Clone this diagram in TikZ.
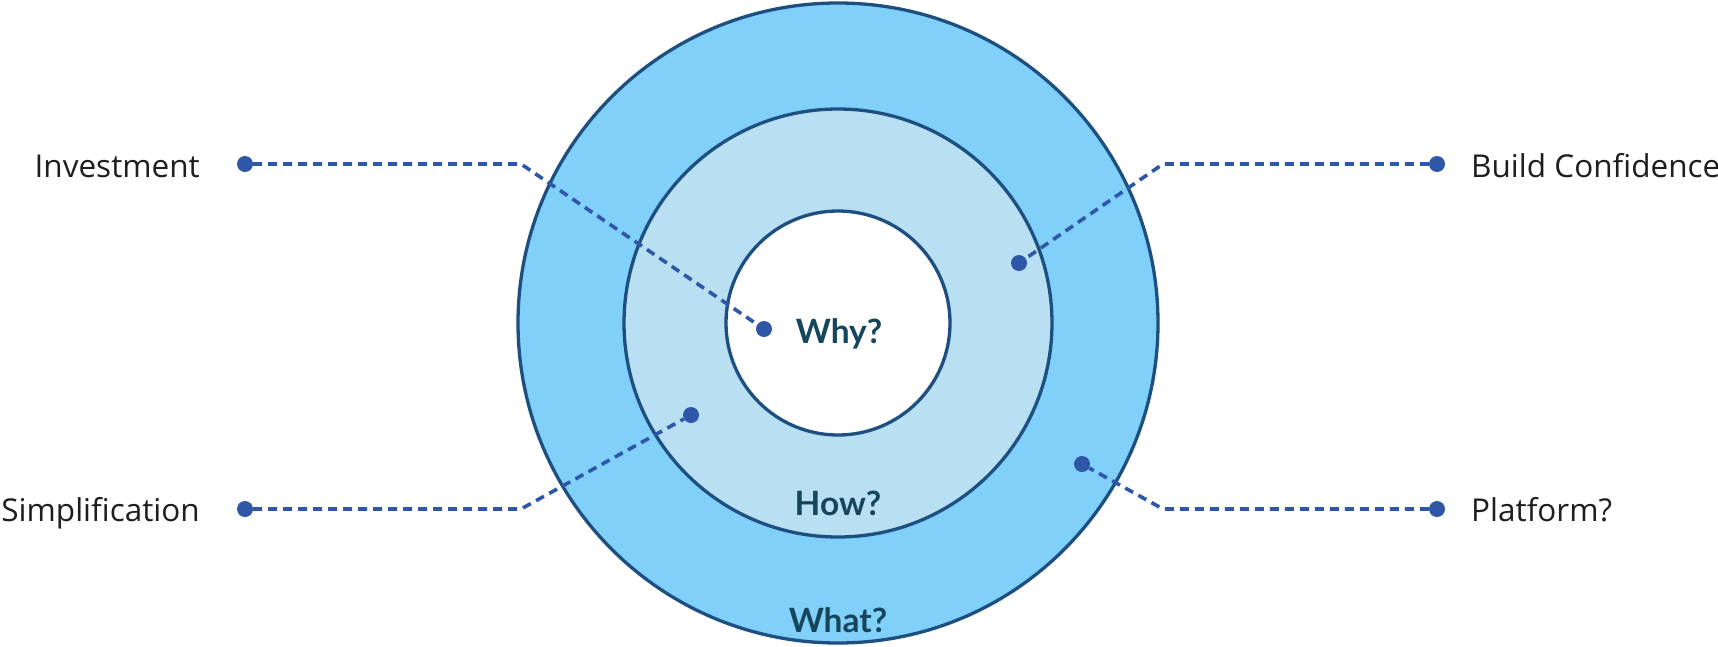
\documentclass[tikz,border=0pt]{standalone}
\usepackage{fontspec}
\setmainfont{Open Sans}
\newfontfamily\latof{Lato}
\definecolor{ringline}{RGB}{29,79,128}
\definecolor{outerfill}{RGB}{129,208,249}
\definecolor{midfill}{RGB}{185,223,242}
\definecolor{dotblue}{RGB}{47,87,168}
\definecolor{qtext}{RGB}{21,70,92}
\definecolor{lbltext}{RGB}{30,30,30}
\begin{document}
\begin{tikzpicture}[x=1pt,y=-1pt,
  ring/.style={circle,draw=ringline,line width=3.3pt,inner sep=0pt},
  dotnode/.style={circle,fill=dotblue,inner sep=0pt,minimum size=16pt},
  conn/.style={draw=dotblue,line width=3.6pt,dash pattern=on 9pt off 6pt},
  lbl/.style={inner sep=0pt,text=lbltext,font=\fontsize{31.5}{38}\selectfont},
  qlbl/.style={inner sep=0pt,anchor=base,text=qtext,font=\latof\bfseries\fontsize{33.5}{40}\selectfont}]
\useasboundingbox (0,0) rectangle (1718,646);
% rings
\node[ring,fill=outerfill,minimum size=640pt] (outer) at (838,323) {};
\node[ring,fill=midfill,minimum size=428pt] (middle) at (838,323) {};
\node[ring,fill=white,minimum size=224pt] (inner) at (838,323) {};
% question labels
\node[qlbl] (why) at (839,343) {Why?};
\node[qlbl] (how) at (838,515) {How?};
\node[qlbl] (what) at (838,632) {What?};
% dots
\node[dotnode] (dInv) at (245,164) {};
\node[dotnode] (eInv) at (764,329) {};
\node[dotnode] (dBC) at (1437,164) {};
\node[dotnode] (eBC) at (1019,263) {};
\node[dotnode] (dSim) at (245,509) {};
\node[dotnode] (eSim) at (691,415) {};
\node[dotnode] (dPl) at (1437,509) {};
\node[dotnode] (ePl) at (1082,464) {};
\coordinate (bInv) at (521,164);
\coordinate (bBC) at (1163,164);
\coordinate (bSim) at (521,509);
\coordinate (bPl) at (1163,509);
% connectors
\draw[conn] (dInv) -- (bInv) -- (eInv);
\draw[conn] (dBC) -- (bBC) -- (eBC);
\draw[conn] (dSim) -- (bSim) -- (eSim);
\draw[conn] (dPl) -- (bPl) -- (ePl);
% labels
\node[lbl,anchor=base east] (tInv) at (200,177) {Investment};
\node[lbl,anchor=base east] (tSim) at (200,521) {Simplification};
\node[lbl,anchor=base west] (tBC) at (1471,177) {Build Confidence};
\node[lbl,anchor=base west] (tPl) at (1471,521) {Platform?};
\end{tikzpicture}
\end{document}
